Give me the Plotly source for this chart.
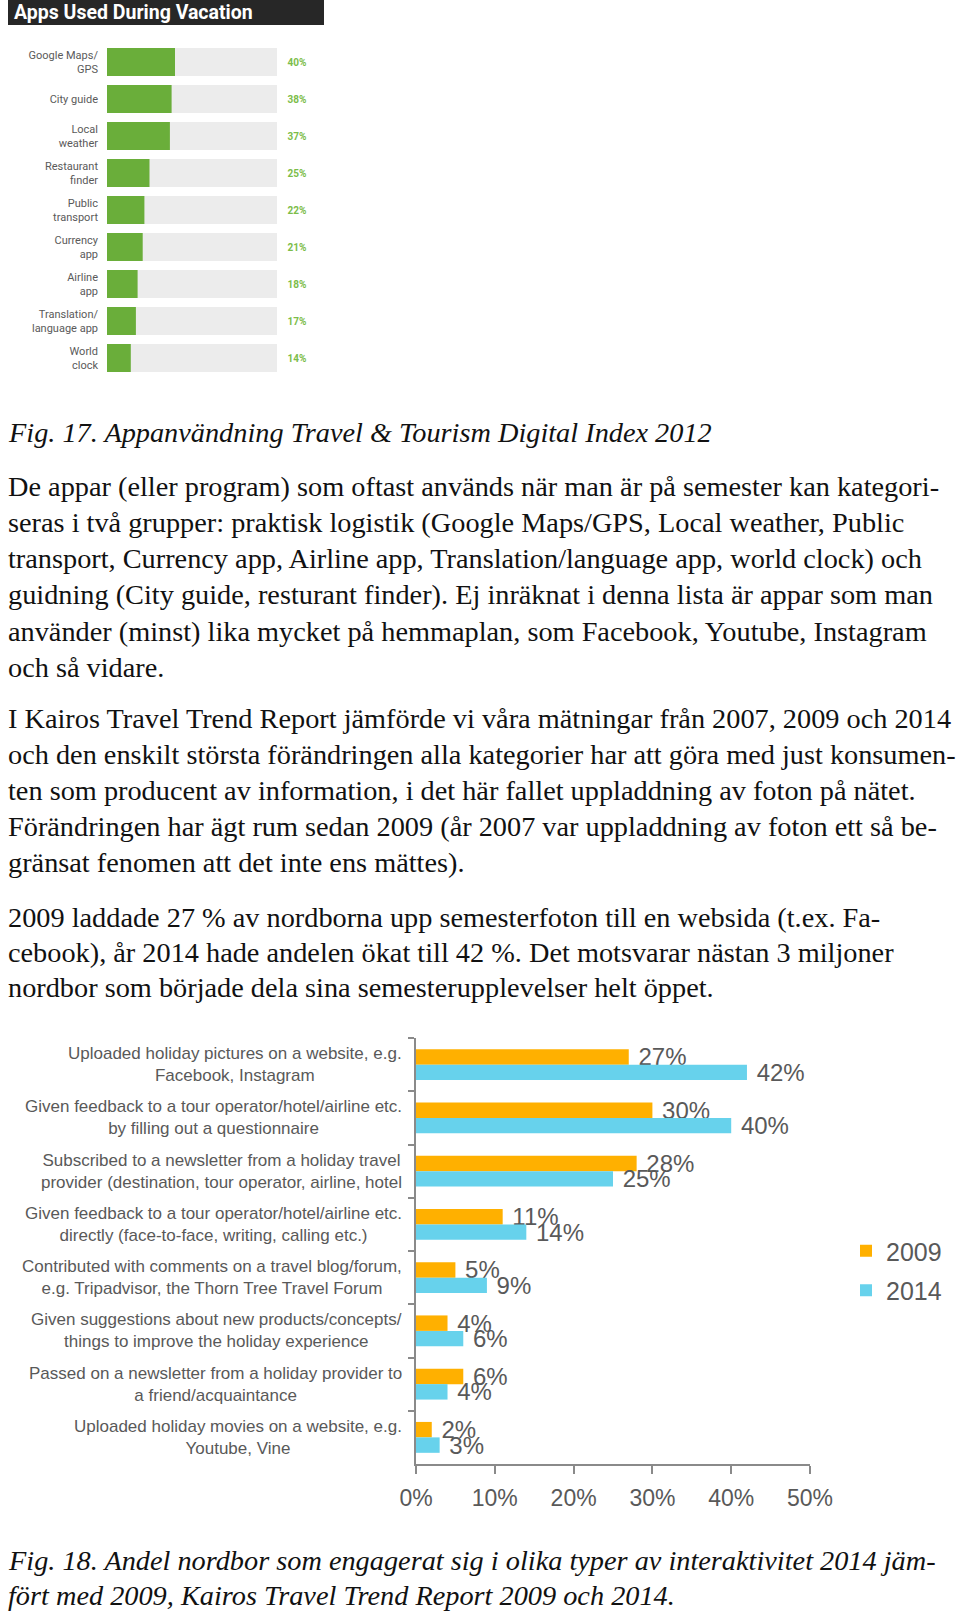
import plotly.graph_objects as go

W, H = 960, 1613

# ---------------- data: Fig. 17 ----------------
apps = ["Google Maps/<br>GPS", "City guide", "Local<br>weather", "Restaurant<br>finder",
        "Public<br>transport", "Currency<br>app", "Airline<br>app",
        "Translation/<br>language app", "World<br>clock"]
app_share = [40, 38, 37, 25, 22, 21, 18, 17, 14]
app_track = [100, 100, 100, 100, 100, 100, 100, 100, 100]
app_title = "Apps Used During Vacation"

# ---------------- data: Fig. 18 ----------------
activities = [
    "Uploaded holiday pictures on a website, e.g.<br>Facebook, Instagram",
    "Given feedback to a tour operator/hotel/airline etc.<br>by filling out a questionnaire",
    "Subscribed to a newsletter from a holiday travel<br>provider (destination, tour operator, airline, hotel",
    "Given feedback to a tour operator/hotel/airline etc.<br>directly (face-to-face, writing, calling etc.)",
    "Contributed with comments on a travel blog/forum,<br>e.g. Tripadvisor, the Thorn Tree Travel Forum",
    "Given suggestions about new products/concepts/<br>things to improve the holiday experience",
    "Passed on a newsletter from a holiday provider to<br>a friend/acquaintance",
    "Uploaded holiday movies on a website, e.g.<br>Youtube, Vine",
]
share_2009 = [27, 30, 28, 11, 5, 4, 6, 2]
share_2014 = [42, 40, 25, 14, 9, 6, 4, 3]
series_names = ["2009", "2014"]
x_ticks = [0, 10, 20, 30, 40, 50]
x_tick_labels = ["0%", "10%", "20%", "30%", "40%", "50%"]

# ---------------- text ----------------
caption_17 = "Fig. 17. Appanvändning Travel & Tourism Digital Index 2012"
para_1 = [
    "De appar (eller program) som oftast används när man är på semester kan kategori-",
    "seras i två grupper: praktisk logistik (Google Maps/GPS, Local weather, Public",
    "transport, Currency app, Airline app, Translation/language app, world clock) och",
    "guidning (City guide, resturant finder). Ej inräknat i denna lista är appar som man",
    "använder (minst) lika mycket på hemmaplan, som Facebook, Youtube, Instagram",
    "och så vidare.",
]
para_2 = [
    "I Kairos Travel Trend Report jämförde vi våra mätningar från 2007, 2009 och 2014",
    "och den enskilt största förändringen alla kategorier har att göra med just konsumen-",
    "ten som producent av information, i det här fallet uppladdning av foton på nätet.",
    "Förändringen har ägt rum sedan 2009 (år 2007 var uppladdning av foton ett så be-",
    "gränsat fenomen att det inte ens mättes).",
]
para_3 = [
    "2009 laddade 27 % av nordborna upp semesterfoton till en websida (t.ex. Fa-",
    "cebook), år 2014 hade andelen ökat till 42 %. Det motsvarar nästan 3 miljoner",
    "nordbor som började dela sina semesterupplevelser helt öppet.",
]
caption_18 = [
    "Fig. 18. Andel nordbor som engagerat sig i olika typer av interaktivitet 2014 jäm-",
    "fört med 2009, Kairos Travel Trend Report 2009 och 2014.",
]


def px_x(v):
    return v / W


def px_y(v):
    return 1 - v / H


GRAY = "#595959"
SERIF = "Liberation Serif"
SANS = "Liberation Sans"

fig = go.Figure()

# ---- Fig. 17 bars ----
fig.add_trace(go.Bar(
    y=apps, x=app_track, orientation="h", xaxis="x", yaxis="y",
    marker=dict(color="#ececec", line_width=0), offset=-0.38, width=0.76,
    text=[f"\u00a0\u00a0\u00a0{v}%" for v in app_share], textposition="outside",
    constraintext="none", cliponaxis=False,
    textfont=dict(family="Roboto", size=10, color="#7cbd4a", weight="bold"),
    showlegend=False, hoverinfo="skip"))
fig.add_trace(go.Bar(
    y=apps, x=app_share, orientation="h", xaxis="x", yaxis="y",
    marker=dict(color="#6aae3a", line_width=0), offset=-0.38, width=0.76,
    showlegend=False, hoverinfo="skip"))

# ---- Fig. 18 bars ----
for name, vals, col in zip(series_names, [share_2009, share_2014], ["#ffb000", "#67d2ec"]):
    fig.add_trace(go.Bar(
        name=name, legendgroup=name, y=activities, x=vals, orientation="h",
        xaxis="x2", yaxis="y2", marker=dict(color=col, line_width=0),
        text=[f"\u00a0{v}%" for v in vals], textposition="outside", constraintext="none",
        cliponaxis=False, textfont=dict(family=SANS, size=24, color=GRAY),
        hoverinfo="skip"))

annotations = []
annotations.append(dict(text=app_title, x=px_x(12), y=px_y(12.5), xref="paper", yref="paper",
                        xanchor="left", yanchor="middle", showarrow=False,
                        font=dict(family="Roboto", size=19.5, color="white", weight="bold")))

for a in activities:
    annotations.append(dict(text=a, x=px_x(404), y=a, xref="paper", yref="y2",
                            xanchor="right", yanchor="middle", align="center", showarrow=False,
                            font=dict(family=SANS, size=17, color=GRAY)))


def add_lines(lines, y0, step, italic=False):
    for i, ln in enumerate(lines):
        annotations.append(dict(text=ln, x=px_x(6), y=px_y(y0 + i * step), xref="paper", yref="paper",
                                xanchor="left", yanchor="middle", showarrow=False,
                                font=dict(family=SERIF, size=28.3, color="#111111",
                                          style="italic" if italic else "normal")))


add_lines([caption_17], 433, 36, italic=True)
add_lines(para_1, 487, 36)
add_lines(para_2, 718, 36)
add_lines(para_3, 917, 35)
add_lines(caption_18, 1560, 35, italic=True)

fig.update_layout(
    width=W, height=H, margin=dict(l=0, r=0, t=0, b=0, autoexpand=False),
    paper_bgcolor="white", plot_bgcolor="white",
    barmode="group", bargap=0.42, bargroupgap=0,
    showlegend=True,
    legend=dict(x=px_x(846), y=px_y(1228), xanchor="left", yanchor="top",
                font=dict(family=SANS, size=25, color=GRAY), bgcolor="rgba(0,0,0,0)",
                tracegroupgap=4),
    xaxis=dict(domain=[px_x(107), px_x(277)], range=[0, 100], visible=False, anchor="y"),
    yaxis=dict(domain=[px_y(376.5), px_y(43.5)], type="category", autorange="reversed",
               anchor="x", showline=False, ticks="", showgrid=False, ticklabelstandoff=8,
               tickfont=dict(family="Roboto", size=11, color="#5a5a5a")),
    xaxis2=dict(domain=[px_x(416), px_x(810)], range=[0, 50], anchor="y2",
                tickvals=x_ticks, ticktext=x_tick_labels, showline=True, linecolor="#8a8a8a",
                linewidth=1.5, ticks="outside", ticklen=8, tickcolor="#8a8a8a", tickwidth=1.5,
                showgrid=False, zeroline=False, ticklabelstandoff=5,
                tickfont=dict(family=SANS, size=23, color=GRAY)),
    yaxis2=dict(domain=[px_y(1464), px_y(1038)], type="category", autorange="reversed",
                anchor="x2", showline=True, linecolor="#8a8a8a", linewidth=1.5,
                ticks="outside", ticklen=6, tickcolor="#8a8a8a", tickwidth=1.5,
                tickson="boundaries", showticklabels=False, showgrid=False),
    shapes=[dict(type="rect", xref="paper", yref="paper", x0=px_x(8), x1=px_x(324),
                 y0=px_y(25), y1=px_y(0), fillcolor="#272727", line_width=0, layer="below")],
    annotations=annotations,
)

fig.write_html("out.html", config={"displayModeBar": False},
               post_script="document.body.style.margin='0';")
